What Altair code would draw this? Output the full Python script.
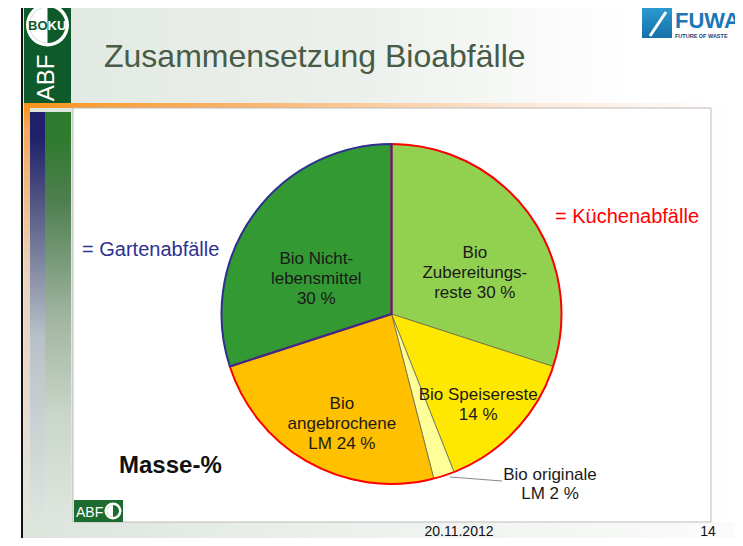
import altair as alt
import pandas as pd

# ---------------- data ----------------
categories = ["Bio Zubereitungsreste", "Bio Speisereste", "Bio originale LM",
              "Bio angebrochene LM", "Bio Nichtlebensmittel"]
values = [30, 14, 2, 24, 30]
groups = ["Küchenabfälle", "Küchenabfälle", "Küchenabfälle", "Küchenabfälle", "Gartenabfälle"]
label_prefix = ["Bio\nZubereitungs-\nreste  ", "Bio Speisereste\n", "",
                "Bio\nangebrochene\nLM  ", "Bio Nicht-\nlebensmittel\n"]
slice_colors = ["#92D050", "#FFE800", "#FFFF99", "#FFC000", "#339933"]
group_names = ["Küchenabfälle", "Gartenabfälle"]
group_colors = ["#FF0000", "#2E3192"]
title_text = "Zusammensetzung Bioabfälle"
unit_text = "Masse-%"
date_text = "20.11.2012"
page_text = "14"

# ---------------- styles / layout ----------------
label_radius = [103, 119, 0, 103, 93]
W, H = 727, 530
OX, OY = 8, 8
RIGHT, BOTTOM = OX + W, OY + H          # page coords of the drawable edge
CX, CY = 391.5 - OX, 314 - OY
R = 170


def px(x):
    return x - OX


def py(y):
    return y - OY


one = pd.DataFrame({"k": [0]})


def grad(stops, horizontal=True):
    return alt.Gradient(
        gradient="linear",
        stops=[alt.GradientStop(color=c, offset=o) for o, c in stops],
        x1=0, y1=0, x2=1 if horizontal else 0, y2=0 if horizontal else 1,
    )


def rect(x1, y1, x2, y2, fill, **kw):
    return alt.Chart(one).mark_rect(fill=fill, **kw).encode(
        x=alt.value(px(x1)), x2=alt.value(px(min(x2, RIGHT))),
        y=alt.value(py(y1)), y2=alt.value(py(min(y2, BOTTOM))))


def label(x, y, text, **kw):
    base = dict(font="Liberation Sans", baseline="alphabetic")
    base.update(kw)
    return alt.Chart(one).mark_text(text=text, **base).encode(
        x=alt.value(px(x)), y=alt.value(py(y)))


def ring(x, y, **kw):
    return alt.Chart(one).mark_arc(**kw).encode(x=alt.value(px(x)), y=alt.value(py(y)))


NARROW = "Liberation Sans Narrow, Liberation Sans"

layers = []
# slide frame / backgrounds
layers.append(rect(21, 8, 23, 546, "#111111"))
layers.append(rect(23, 8, 743, 546, grad([(0, "#DDE5DD"), (0.6, "#F4F6F4"), (1, "#FFFFFF")])))
layers.append(rect(24, 8, 743, 103, grad([(0, "#E1E8E1"), (0.5, "#EDF1ED"), (0.85, "#FFFFFF"), (1, "#FFFFFF")])))
layers.append(rect(24, 8, 71, 103, "#0E5A2B"))
layers.append(rect(24, 103, 743, 108, grad([(0, "#F7941D"), (0.3, "#F9B36A"), (0.7, "#FDE8D8"), (1, "#FFFFFF")])))
layers.append(rect(24, 108, 30, 522, grad([(0, "#F7941D"), (0.05, "#F4A860"), (0.4, "#EBD2BD"), (1, "#E2E4DE")], False)))
layers.append(rect(30, 112, 45, 522, grad([(0, "#20206A"), (0.06, "#20206A"), (0.25, "#5A6088"), (0.55, "#B9C1C8"), (1, "#DEE4DF")], False)))
layers.append(rect(45, 112, 71, 522, grad([(0, "#2E7A2E"), (0.06, "#2E7A2E"), (0.22, "#4F7F50"), (0.5, "#A0B5A0"), (0.75, "#CBD7CB"), (1, "#DFE6DF")], False)))
layers.append(rect(24, 522, 743, 543, grad([(0, "#DCE4DC"), (0.5, "#EEF2EE"), (1, "#FAFBFA")])))
layers.append(rect(73, 108, 711, 522, "#FFFFFF", stroke="#BBBBBB", strokeWidth=1))

# BOKU logo
layers.append(ring(47.5, 25, innerRadius=18, outerRadius=21.5, theta=0, theta2=6.2832, fill="#FFFFFF"))
layers.append(ring(47.5, 25, outerRadius=18, theta=3.1416, theta2=6.2832, fill="#FFFFFF"))
layers.append(label(47.5, 30, "BO", align="right", font=NARROW, fontWeight="bold", fontSize=13, color="#0E5A2B"))
layers.append(label(47.5, 30, "KU", align="left", font=NARROW, fontWeight="bold", fontSize=13, color="#FFFFFF"))
layers.append(label(47, 78, "ABF", align="center", baseline="middle", angle=270,
                    font=NARROW, fontSize=24, color="#FFFFFF"))

# FUWA logo
layers.append(rect(642, 8, 672, 38, grad([(0, "#2A9AD0"), (1, "#1670A8")], False)))
layers.append(alt.Chart(one).mark_rule(color="#FFFFFF", strokeWidth=3).encode(
    x=alt.value(px(650)), y=alt.value(py(36)), x2=alt.value(px(666)), y2=alt.value(py(12))))
layers.append(label(675, 28, "FUWA", align="left", font=NARROW, fontWeight="bold", fontSize=22,
                    color="#1B77B5"))
layers.append(label(675, 37.5, "FUTURE OF WASTE", align="left", font=NARROW, fontWeight="bold",
                    fontSize=5.5, color="#1D3D6E"))

# title and texts
layers.append(label(104, 67, title_text, align="left", fontSize=32, color="#475B47"))
layers.append(label(119, 473, unit_text, align="left", fontSize=24, fontWeight="bold", color="#111111"))
layers.append(label(82, 256, "= " + group_names[1], align="left", fontSize=20, color=group_colors[1]))
layers.append(label(555, 223, "= " + group_names[0], align="left", fontSize=20, color=group_colors[0]))
layers.append(label(459, 536, date_text, align="center", fontSize=14, color="#111111"))
layers.append(label(708, 536, page_text, align="center", fontSize=14, color="#111111"))

# bottom ABF logo
layers.append(rect(74, 500, 123, 522, "#1E6B30"))
layers.append(label(76, 517, "ABF", align="left", font=NARROW, fontSize=14, color="#FFFFFF"))
layers.append(ring(113, 511, innerRadius=6, outerRadius=8.5, theta=0, theta2=6.2832, fill="#FFFFFF"))
layers.append(ring(113, 511, outerRadius=6, theta=3.1416, theta2=6.2832, fill="#FFFFFF"))

# ---------------- pie ----------------
df = pd.DataFrame({
    "cat": categories,
    "value": values,
    "group": groups,
    "idx": list(range(len(categories))),
    "label": [p + (f"{v} %" if p else "") for p, v in zip(label_prefix, values)],
    "lr": label_radius,
})

pie = alt.Chart(df).mark_arc(outerRadius=R, stroke="#6B6B4B", strokeWidth=0.8).encode(
    theta=alt.Theta("value:Q", stack=True),
    color=alt.Color("cat:N", scale=alt.Scale(domain=categories, range=slice_colors), legend=None),
    order=alt.Order("idx:Q"),
    x=alt.value(CX), y=alt.value(CY),
)

grp = alt.Chart(df).transform_aggregate(
    total="sum(value)", first="min(idx)", groupby=["group"]
).mark_arc(outerRadius=R, fillOpacity=0, strokeWidth=2, strokeJoin="round").encode(
    theta=alt.Theta("total:Q", stack=True),
    stroke=alt.Stroke("group:N", scale=alt.Scale(domain=group_names, range=group_colors), legend=None),
    order=alt.Order("first:Q"),
    x=alt.value(CX), y=alt.value(CY),
)

txt = alt.Chart(df).transform_window(
    cum="sum(value)", sort=[alt.SortField("idx")], frame=[None, 0]
).transform_joinaggregate(
    total="sum(value)"
).transform_calculate(
    ang="2 * PI * (datum.cum - datum.value / 2) / datum.total",
    tx=f"{CX} + datum.lr * sin(datum.ang)",
    ty=f"{CY} - datum.lr * cos(datum.ang)",
).mark_text(font="Liberation Sans", fontSize=17, lineBreak="\n", lineHeight=20,
            color="#1A1A1A", align="center", baseline="middle").encode(
    x=alt.X("tx:Q", scale=None),
    y=alt.Y("ty:Q", scale=None),
    text=alt.Text("label:N"),
)

layers += [pie, grp, txt]

# outside label for small slice
layers.append(alt.Chart(one).mark_rule(color="#8A8A8A", strokeWidth=1).encode(
    x=alt.value(px(450)), y=alt.value(py(477)), x2=alt.value(px(502)), y2=alt.value(py(481))))
layers.append(label(550, 480, f"Bio originale\nLM  {values[2]} %", align="center", fontSize=17,
                    lineBreak="\n", lineHeight=19, color="#1A1A1A"))

chart = alt.layer(*layers).properties(
    width=W, height=H,
    autosize=alt.AutoSizeParams(type="none"),
    padding=0,
    background="#FFFFFF",
).configure_view(strokeWidth=0)

chart.save("out.html", embed_options={"renderer": "svg", "actions": False})
